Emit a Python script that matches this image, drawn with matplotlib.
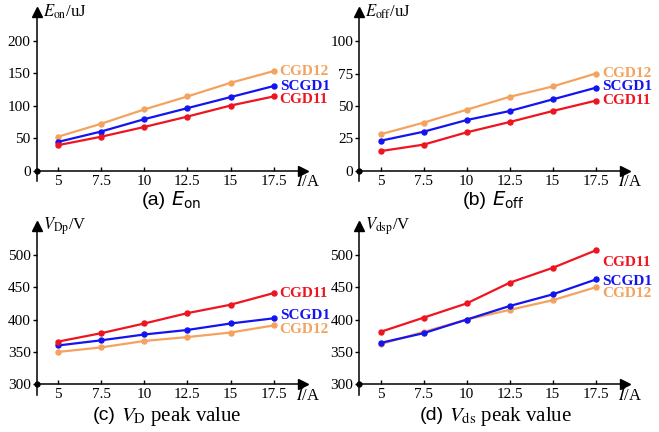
import matplotlib
matplotlib.use("Agg")
import matplotlib.pyplot as plt

plt.rcParams.update({
    "font.family": "Liberation Serif",
    "mathtext.fontset": "stix",
    "axes.linewidth": 1.1,
})

ORANGE = "#F4A35F"
BLUE = "#1414F0"
RED = "#EE1420"

current = [5, 7.5, 10, 12.5, 15, 17.5]
series_names = ["CGD12", "SCGD1", "CGD11"]

eon_cgd12 = [52, 72, 94, 114, 135, 153]
eon_scgd1 = [44, 60, 79, 96, 113, 130]
eon_cgd11 = [39, 52, 67, 83, 100, 114]

eoff_cgd12 = [28, 37, 47, 57, 65, 75]
eoff_scgd1 = [23, 30, 39, 46, 55, 64]
eoff_cgd11 = [15, 20, 29.5, 37.5, 46, 54]

vd_cgd12 = [350, 357, 367, 373, 380, 391]
vd_scgd1 = [360, 368, 377, 384, 394, 402]
vd_cgd11 = [366, 379, 394, 410, 423, 441]

vds_cgd12 = [362, 381, 400, 415, 430, 450]
vds_scgd1 = [364, 379, 400, 421, 439, 462]
vds_cgd11 = [381, 403, 425, 457, 480, 507]

x_ticks = [5, 7.5, 10, 12.5, 15, 17.5]
x_ticklabels = ["5", "7.5", "10", "12.5", "15", "17.5"]

W, H = 659, 432
fig = plt.figure(figsize=(W / 100, H / 100), dpi=100)


def make_axes(left_px, axis_px, right_px, top_px):
    return fig.add_axes([left_px / W, (H - axis_px) / H,
                         (right_px - left_px) / W, (axis_px - top_px) / H])


def panel(ax, ys, label_ys, ylim, yticks, ylabel):
    colors = {"CGD12": ORANGE, "SCGD1": BLUE, "CGD11": RED}
    for name, y in zip(series_names, ys):
        ax.plot(current, y, color=colors[name], lw=1.6, marker="o", ms=3.6,
                solid_capstyle="round", zorder=3, clip_on=False)
    for name, ly in zip(series_names, label_ys):
        ax.text(17.85, ly, name, color=colors[name], fontsize=11,
                fontweight="bold", va="center", ha="left")

    ax.set_xlim(3.78, 19.2)
    ax.set_ylim(*ylim)
    ax.set_xticks(x_ticks)
    ax.set_xticklabels(x_ticklabels)
    ax.set_yticks(yticks)
    ax.spines[["top", "right"]].set_visible(False)
    ax.tick_params(axis="x", direction="in", length=3, width=1, labelsize=11, pad=3)
    ax.tick_params(axis="y", direction="out", length=3, width=1, labelsize=11, pad=1.5)

    # arrows and the little stub of the y axis below the origin
    ax.plot(1, 0, ">k", ms=7.5, transform=ax.transAxes, clip_on=False)
    ax.plot(0, 1, "^k", ms=7.5, transform=ax.transAxes, clip_on=False)
    ax.plot(0, 0, "ok", ms=3.5, transform=ax.transAxes, clip_on=False)
    ax.plot([0, 0], [0, -0.065], color="k", lw=1.1, transform=ax.transAxes, clip_on=False)

    ax.text(0.022, 1.0, ylabel, transform=ax.transAxes, fontsize=12,
            ha="left", va="center")
    ax.text(0.972, -0.075, "$I$/A", transform=ax.transAxes, fontsize=12,
            ha="left", va="center")


def caption(ax, x, y, tag, rest, sans_math):
    t = ax.text(x, y, tag, transform=ax.transAxes, fontsize=14,
                family="Liberation Sans", ha="left", va="center")
    if sans_math:
        ax.annotate(rest, xy=(1, 0.5), xycoords=t, xytext=(3.5, 0),
                    textcoords="offset points", fontsize=14, va="center", ha="left",
                    family="Liberation Sans", math_fontfamily="dejavusans")
    else:
        ax.annotate(rest, xy=(1, 0.5), xycoords=t, xytext=(3.5, 0),
                    textcoords="offset points", fontsize=15, va="center", ha="left")


ax_a = make_axes(37, 170.5, 303, 12)
panel(ax_a, [eon_cgd12, eon_scgd1, eon_cgd11], [153, 130, 110],
      (0, 244), [0, 50, 100, 150, 200], r"$E_{\rm on}$/uJ")
caption(ax_a, 0.395, -0.19, "(a)", r"$E_{\rm on}$", True)

ax_b = make_axes(359.5, 170.5, 625, 12)
panel(ax_b, [eoff_cgd12, eoff_scgd1, eoff_cgd11], [75.2, 64.8, 54],
      (0, 122.6), [0, 25, 50, 75, 100], r"$E_{\rm off}$/uJ")
caption(ax_b, 0.39, -0.19, "(b)", r"$E_{\rm off}$", True)

ax_c = make_axes(37, 384.3, 303, 225.8)
panel(ax_c, [vd_cgd12, vd_scgd1, vd_cgd11], [385, 406.7, 440.8],
      (300, 545), [300, 350, 400, 450, 500], r"$V_{\rm Dp}$/V")
caption(ax_c, 0.21, -0.2, "(c)", r"$V_{\rm D}$ peak value", False)

ax_d = make_axes(359.5, 384.3, 625, 225.8)
panel(ax_d, [vds_cgd12, vds_scgd1, vds_cgd11], [440.8, 458.7, 488],
      (300, 545), [300, 350, 400, 450, 500], r"$V_{\rm dsp}$/V")
caption(ax_d, 0.228, -0.2, "(d)", r"$V_{\rm ds}$ peak value", False)

fig.savefig("out.png", dpi=100)
